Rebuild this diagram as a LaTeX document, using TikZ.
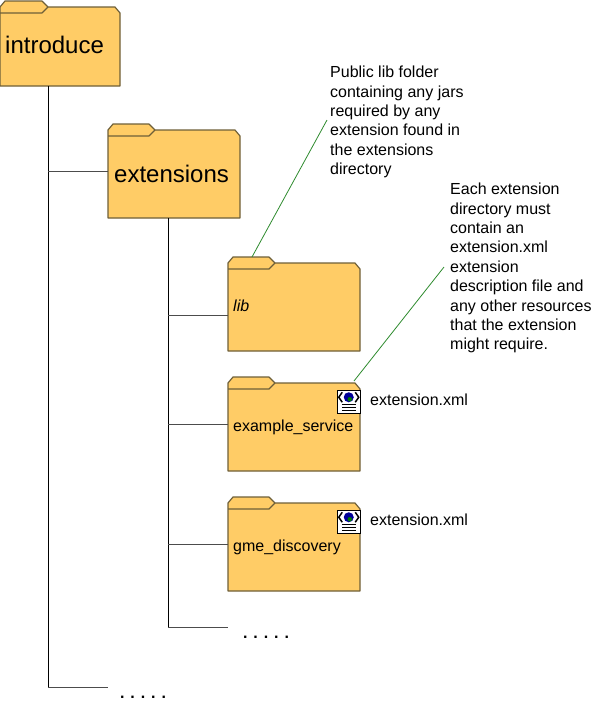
\documentclass[tikz,border=0pt]{standalone}
\usepackage{fontspec}
\setmainfont{Liberation Sans}
\definecolor{foldfill}{HTML}{FFCC66}
\definecolor{foldedge}{HTML}{6E5F38}
\definecolor{notegreen}{HTML}{2E8B2E}
\tikzset{
	folderline/.style = {draw = foldedge, line width = 1.2pt, line join = round},
	trunk/.style = {draw = black, line width = .9pt},
	branch/.style = {draw = black!70, line width = .9pt},
	note/.style = {draw = notegreen, line width = .8pt},
	bigtext/.style = {anchor = base west, inner sep = 0, font = \fontsize{24}{28}\selectfont},
	smalltext/.style = {anchor = base west, inner sep = 0, font = \fontsize{16}{19.4}\selectfont},
	notetext/.style = {smalltext, align = left},
	dots/.style = {anchor = base, inner sep = 0, font = \fontsize{16}{20}\selectfont\bfseries},
}
% name, left, top, width, height, tab end
\newcommand{\folder}[6]{
	\path [fill = foldfill, folderline] (#2, -#3 - 6) -- ++(5, 6) -- (#2 + #6 - 6, -#3) -- (#2 + #6, -#3 - 6)
		-- (#2 + #4 - 5, -#3 - 6) -- (#2 + #4, -#3 - 12) -- (#2 + #4, -#3 - #5) -- (#2, -#3 - #5) -- cycle;
	\draw [folderline] (#2, -#3 - 12) -- (#2 + #6 - 6, -#3 - 12) -- (#2 + #6, -#3 - 6);
	\node [minimum width = #4, minimum height = #5, inner sep = 0, anchor = north west] (#1) at (#2, -#3) {};
}
% name, left, top
\newcommand{\xmlicon}[3]{
	\node [draw = black, fill = white, line width = 1pt, minimum size = 23.5, inner sep = 0, anchor = north west] (#1) at (#2, -#3) {};
	\fill [blue!60!black] (#1.center) ++(0, 4.5) circle (5);
	\fill [green!50!black] (#1.center) ++(1, 2.5) circle (2.2);
	\draw [line width = 1.5pt] (#1.center) ++(-6.5, 9.5) -- ++(-3.5, -5) -- ++(3.5, -5);
	\draw [line width = 1.5pt] (#1.center) ++(6.5, 9.5) -- ++(3.5, -5) -- ++(-3.5, -5);
	\draw [line width = .7pt] (#1.center) ++(-7, -3) -- ++(14, 0) ++(-14, -3) -- ++(14, 0) ++(-14, -3) -- ++(14, 0);
}
\begin{document}
\begin{tikzpicture}[x = 1pt, y = 1pt]
	\useasboundingbox (0, 0) rectangle (595, -707);

	% tree lines
	\coordinate (stemtop) at (48, -86);
	\coordinate (stembot) at (48, -687);
	\coordinate (subtop) at (168, -218);
	\coordinate (subbot) at (168, -627);
	\coordinate (libin) at (228, -315);
	\coordinate (moreouter) at (108, -687);
	\coordinate (moreinner) at (228, -627);

	% folders
	\folder{introduce}{0}{1}{120}{85}{48}
	\folder{extensions}{108}{124}{132}{94}{155 - 108}
	\folder{lib}{228}{257}{132}{94}{47}
	\folder{example}{228}{377}{132}{94}{47}
	\folder{gme}{228}{497}{132}{94}{47}

	\draw [trunk] (stemtop) -- (stembot);
	\draw [trunk] (subtop) -- (subbot);
	\draw [branch] (stemtop |- extensions.west) -- (extensions.west);
	\draw [branch] (stembot) -- (moreouter);
	\draw [branch] (subtop |- libin) -- (libin);
	\draw [branch] (subtop |- example.west) -- (example.west);
	\draw [branch] (subtop |- gme.west) -- (gme.west);
	\draw [branch] (subbot) -- (moreinner);

	% labels
	\node [bigtext] (introlabel) at (5, -53) {introduce};
	\node [bigtext] (extlabel) at (114, -182) {extensions};
	\node [smalltext, font = \fontsize{16}{19.4}\selectfont\itshape] (liblabel) at (233, -311) {lib};
	\node [smalltext] (examplelabel) at (233, -431.5) {example\_service};
	\node [smalltext] (gmelabel) at (233, -551.5) {gme\_discovery};

	% icons
	\xmlicon{iconone}{336.5}{389.5}
	\xmlicon{icontwo}{336.5}{509.5}
	\node [smalltext] (xmlone) at (370, -405) {extension.xml};
	\node [smalltext] (xmltwo) at (370, -525) {extension.xml};

	% notes
	\node [notetext, anchor = north west] (libnote) at (330, -66) {Public lib folder\\containing any jars\\required by any\\extension found in\\the extensions\\directory};
	\node [notetext, anchor = north west] (extnote) at (450, -183) {Each extension\\directory must\\contain an\\extension.xml\\extension\\description file and\\any other resources\\that the extension\\might require.};
	\coordinate (libnoteend) at (327, -120);
	\coordinate (libnotestart) at (252, -257);
	\coordinate (extnoteend) at (444, -267);
	\coordinate (extnotestart) at (354, -381);
	\draw [note] (libnotestart) -- (libnoteend);
	\draw [note] (extnotestart) -- (extnoteend);

	% more
	\node [dots] (moreone) at (266, -638) {. . . . .};
	\node [dots] (moretwo) at (143, -698) {. . . . .};
\end{tikzpicture}
\end{document}
